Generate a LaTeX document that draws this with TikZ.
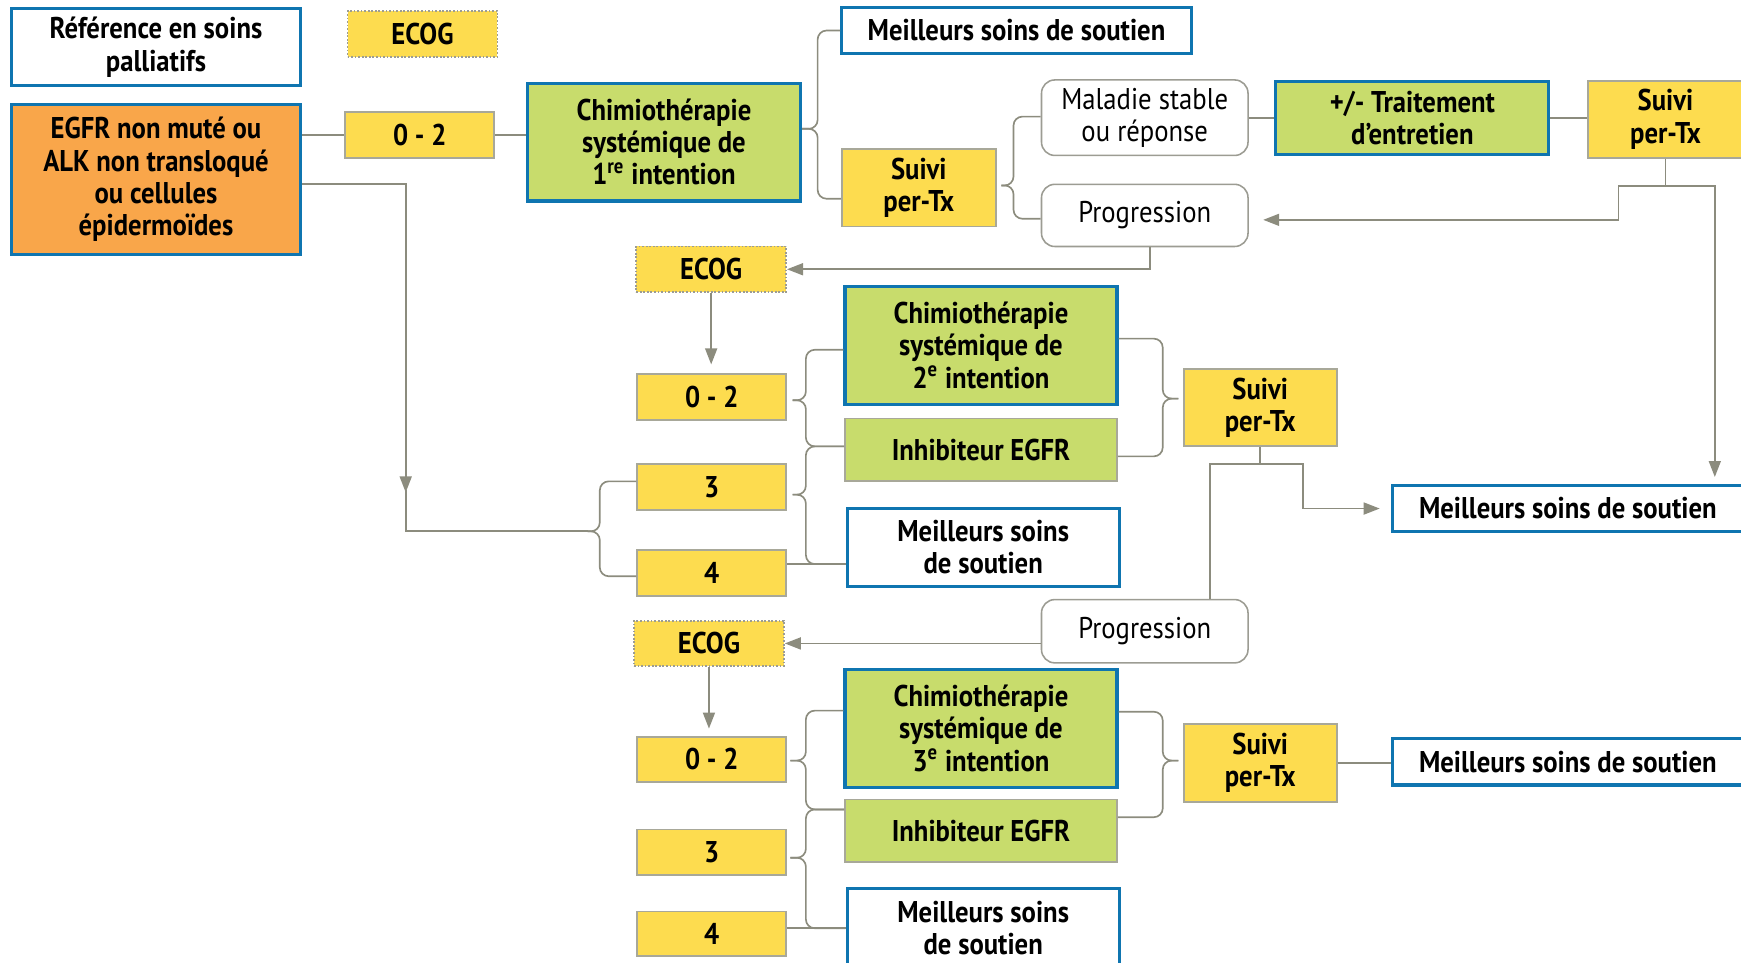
\documentclass[tikz,border=0pt]{standalone}
\usepackage{fontspec}
\setmainfont{PT Sans}[FakeStretch=0.89]
\usetikzlibrary{arrows.meta,calc}

\definecolor{yel}{HTML}{FDDC4F}
\definecolor{grn}{HTML}{C8DC6C}
\definecolor{org}{HTML}{F9A64A}
\definecolor{blu}{HTML}{0F75B0}
\definecolor{lin}{HTML}{8C8C7E}
\definecolor{ybd}{HTML}{A8A899}
\definecolor{rbd}{HTML}{9C9C93}

% box given by its corners (x1,y1) (x2,y2)
\newcommand\boxat[7]{%
  \node[#2, minimum width={(#5-#3)*0.5pt}, minimum height={(#6-#4)*0.5pt}]
    (#1) at ({(#3+#5)/2},{(#4+#6)/2}) {#7};}
% brace arm: tip on the left, arm runs right to the target
\newcommand\armR[3]{\draw[conn,rounded corners=4pt] (#1) -- ++(#2,0) |- (#3);}
% brace arm: from a source on the left into a tip on the right
\newcommand\armL[3]{\draw[conn,rounded corners=4pt] (#1) -| ($(#3)+(-#2,0)$) -- (#3);}

\begin{document}
\begin{tikzpicture}[x=0.5pt,y=-0.5pt,
  every node/.style={inner sep=0pt, align=center, text=black,
    font=\fontsize{13.5}{14.5}\selectfont\bfseries},
  yelbox/.style={fill=yel, draw=ybd, line width=0.8pt},
  ecogbox/.style={fill=yel, draw=rbd, line width=0.8pt, dash pattern=on 0.8pt off 0.8pt},
  grnbox/.style={fill=grn, draw=blu, line width=1.4pt},
  grnplain/.style={fill=grn, draw=ybd, line width=0.8pt},
  whitebox/.style={fill=white, draw=blu, line width=1.4pt},
  orgbox/.style={fill=org, draw=blu, line width=1.4pt},
  roundbox/.style={fill=white, draw=rbd, line width=0.7pt, rounded corners=6pt,
    font=\fontsize{13.5}{14.5}\selectfont\mdseries},
  conn/.style={draw=lin, line width=0.75pt},
  arr/.style={-{Triangle[length=7.2pt,width=5.4pt]}},
]
\useasboundingbox (0,0) rectangle (1568,867);

% ---- first line of treatment ----
\boxat{ref}{whitebox}{10}{8}{271}{77}{Référence en soins\\palliatifs}
\boxat{ecogA}{ecogbox}{313}{10}{448}{51}{ECOG}
\boxat{egfr}{orgbox}{10}{94}{271}{229}{EGFR non muté ou\\ALK non transloqué\\ou cellules\\épidermoïdes}
\boxat{a02}{yelbox}{311}{101}{445}{142}{0 - 2}
\boxat{chA}{grnbox}{475}{75}{721}{181}{Chimiothérapie\\systémique de\\1\textsuperscript{re} intention}
\boxat{mssA}{whitebox}{758}{7}{1073}{48}{Meilleurs soins de soutien}
\boxat{suA}{yelbox}{758}{134}{897}{204}{Suivi\\per-Tx}
\boxat{stab}{roundbox}{938}{72}{1124}{140}{Maladie stable\\ou réponse}
\boxat{prA}{roundbox}{938}{166}{1124}{222}{Progression}
\boxat{entr}{grnbox}{1149}{73}{1395}{139}{+/- Traitement\\d’entretien}
\boxat{suT}{yelbox}{1430}{73}{1570}{142}{Suivi\\per-Tx}

% ---- second line ----
\boxat{ecB}{ecogbox}{573}{222}{708}{263}{ECOG}
\boxat{b02}{yelbox}{574}{337}{708}{378}{0 - 2}
\boxat{chB}{grnbox}{761}{258}{1006}{364}{Chimiothérapie\\systémique de\\2\textsuperscript{e} intention}
\boxat{inB}{grnplain}{761}{377}{1006}{433}{Inhibiteur EGFR}
\boxat{b3}{yelbox}{574}{418}{708}{459}{3}
\boxat{b4}{yelbox}{574}{495}{708}{537}{4}
\boxat{mssB}{whitebox}{763}{458}{1008}{528}{Meilleurs soins\\de soutien}
\boxat{suB}{yelbox}{1066}{332}{1204}{402}{Suivi\\per-Tx}
\boxat{mssR}{whitebox}{1254}{437}{1570}{479}{Meilleurs soins de soutien}
\boxat{prB}{roundbox}{938}{540}{1124}{597}{Progression}

% ---- third line ----
\boxat{ecC}{ecogbox}{571}{559}{706}{600}{ECOG}
\boxat{c02}{yelbox}{574}{664}{708}{704}{0 - 2}
\boxat{chC}{grnbox}{761}{603}{1006}{709}{Chimiothérapie\\systémique de\\3\textsuperscript{e} intention}
\boxat{inC}{grnplain}{761}{720}{1006}{776}{Inhibiteur EGFR}
\boxat{c3}{yelbox}{574}{747}{708}{788}{3}
\boxat{c4}{yelbox}{574}{821}{708}{861}{4}
\boxat{mssC}{whitebox}{763}{800}{1008}{872}{Meilleurs soins\\de soutien}
\boxat{suC}{yelbox}{1066}{652}{1204}{722}{Suivi\\per-Tx}
\boxat{mssS}{whitebox}{1254}{665}{1570}{707}{Meilleurs soins de soutien}

% ---- brace tips and junctions ----
\coordinate (tA) at ($(chA.east)+(0,-12)$);
\coordinate (tB) at ($(suA.east)+(4,-2)$);
\coordinate (tC) at ($(b02.east)+(5,3)$);
\coordinate (tD) at ($(b3.east)+(5,7)$);
\coordinate (tE) at ($(b3.west)+(-44,40)$);
\coordinate (tF) at ($(suB.west)+(-4,-8)$);
\coordinate (tG) at ($(c02.east)+(3,1)$);
\coordinate (tH) at ($(c3.east)+(3,5)$);
\coordinate (tI) at ($(suC.west)+(-4,-2)$);
\coordinate (jA) at ($(suT.south)+(0,25)$);
\coordinate (jB) at ($(suB.south)+(0,15)$);
\coordinate (kA) at ($(egfr.east)+(0,4)$);
\coordinate (kB) at ($(egfr.east)+(93,282)$);

% arm ends on the boxes
\coordinate (eSuA) at ($(suA.west)+(0,10)$);
\coordinate (eStab) at ($(stab.west)+(0,-1)$);
\coordinate (ePrA) at ($(prA.west)+(0,3)$);
\coordinate (eChB) at ($(chB.west)+(0,4)$);
\coordinate (eInB) at ($(inB.west)+(0,-3)$);
\coordinate (eMssB) at ($(mssB.west)+(0,15)$);
\coordinate (eB3) at ($(b3.west)+(0,-5)$);
\coordinate (eB4) at ($(b4.west)+(0,3)$);
\coordinate (sChB) at ($(chB.east)+(0,-6)$);
\coordinate (sInB) at ($(inB.east)+(0,6)$);
\coordinate (eChC) at ($(chC.west)+(0,-16)$);
\coordinate (eInC) at ($(inC.west)+(0,-19)$);
\coordinate (sChC) at ($(chC.east)+(0,-15)$);
\coordinate (sInC) at ($(inC.east)+(0,-12)$);

% ---- connectors: first line ----
\draw[conn] (egfr.east |- a02.west) -- (a02.west);
\draw[conn] (a02.east) -- (chA.west |- a02.east);
\armR{tA}{14}{mssA.west}
\armR{tA}{14}{eSuA}
\armR{tB}{11}{eStab}
\armR{tB}{11}{ePrA}
\draw[conn] (stab.east) -- (entr.west);
\draw[conn] (entr.east) -- (entr.east -| suT.west);
\draw[conn] (suT.south) -- (jA);
\draw[conn,arr] (jA) -| ($(prA.east)+(333,4)$) -- ($(prA.east)+(13,4)$);
\draw[conn,arr] (jA) -| ($(mssR.north east)+(-27,-6)$);
\draw[conn,arr] ($(prA.south)+(5,0)$) |- (ecB.east);

% ---- connectors: second line ----
\draw[conn,arr] (ecB.south) -- ($(ecB.south |- b02.north)+(0,-8)$);
\draw[conn,arr] (kA) -| (kB);
\draw[conn] ($(kB)+(0,-2)$) |- (tE);
\armR{tE}{11}{eB3}
\armR{tE}{11}{eB4}
\armR{tC}{12}{eChB}
\armR{tC}{12}{eInB}
\armR{tD}{12}{eInB}
\armR{tD}{12}{eMssB}
\draw[conn] ($(b4.east)+(0,-8)$) -- (eMssB);
\armL{sChB}{14}{tF}
\armL{sInB}{14}{tF}
\draw[conn] (suB.south) -- (jB);
\draw[conn] (jB) -| ($(prB.north)+(59,0)$);
\draw[conn,arr] (jB) -| ($(mssR.west)+(-79,0)$) -- ($(mssR.west)+(-10,0)$);
\draw[conn,arr] (prB.west |- ecC.east) -- (ecC.east);

% ---- connectors: third line ----
\draw[conn,arr] (ecC.south) -- ($(ecC.south |- c02.north)+(0,-7)$);
\armR{tG}{14}{eChC}
\armR{tG}{14}{eInC}
\armR{tH}{14}{eInC}
\armR{tH}{14}{mssC.west}
\draw[conn] (mssC.west -| c4.east) -- (mssC.west);
\armL{sChC}{14}{tI}
\armL{sInC}{14}{tI}
\draw[conn] (suC.east) -- (suC.east -| mssS.west);
\end{tikzpicture}
\end{document}
